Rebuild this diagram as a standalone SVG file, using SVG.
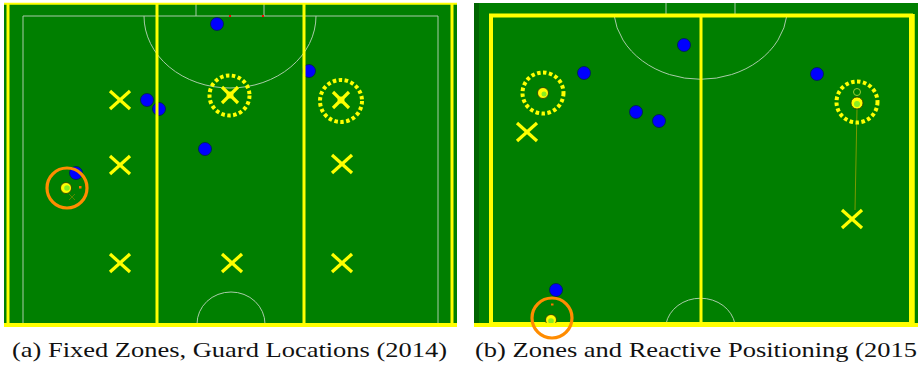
<svg xmlns="http://www.w3.org/2000/svg" width="918" height="366" viewBox="0 0 918 366">
<style>
.field{fill:#007f00}
.wl{fill:none;stroke:#a8cca8;stroke-width:1}
.yl{fill:none;stroke:#ffff00;stroke-width:3}
.xm{stroke:#ffff00;stroke-width:3.2;stroke-linecap:butt}
.dc{fill:none;stroke:#ffff00;stroke-width:4;stroke-dasharray:3.5 2.5}
.oc{fill:none;stroke:#ff8c00;stroke-width:3.2}
.rb{fill:#0000ff;stroke:#00224a;stroke-width:0.8}
.ball{fill:#ffff00;stroke:#333300;stroke-width:0.8}
.bin{fill:#88ee22}
.cap{font-family:"Liberation Serif","DejaVu Serif",serif;font-size:22px;fill:#111}
</style>
<defs>
<g id="xmark"><line class="xm" x1="-10" y1="-9" x2="10" y2="9"/><line class="xm" x1="-10" y1="9" x2="10" y2="-9"/></g>
<g id="xsmall"><line class="xm" x1="-8" y1="-8" x2="8" y2="8"/><line class="xm" x1="-8" y1="8" x2="8" y2="-8"/><circle r="3.5" fill="#ffff00"/></g>
</defs>
<rect width="918" height="366" fill="#ffffff"/>

<!-- Panel A -->
<g id="panel-a">
<rect class="field" x="4" y="3" width="453" height="324"/>
<path class="wl" d="M23,324 V16 H438 V324"/>
<path class="wl" d="M196,4 V16 M264,4 V16"/>
<path class="wl" d="M144,16 A86,72 0 0 0 316,16"/>
<path class="wl" d="M197,324 A34,32 0 0 1 265,324"/>
<rect x="229" y="15" width="2" height="2" fill="#ff0000"/>
<rect x="262" y="15" width="2" height="2" fill="#ff0000"/>
<g id="a-robots">
<circle class="rb" cx="217" cy="24" r="6.5"/>
<circle class="rb" cx="309" cy="71" r="6.5"/>
<circle class="rb" cx="147" cy="100" r="6.5"/>
<circle class="rb" cx="159" cy="109" r="6.5"/>
<circle class="rb" cx="205" cy="149" r="6.5"/>
<circle class="rb" cx="76" cy="173" r="6.5"/>
</g>
<path d="M4,3.8 H457" stroke="#ffff00" stroke-width="2"/>
<line class="yl" x1="8" y1="3" x2="8" y2="327"/>
<line class="yl" x1="452" y1="3" x2="452" y2="327"/>
<line x1="4" y1="325" x2="457" y2="325" stroke="#ffff00" stroke-width="4"/>
<line class="yl" x1="157" y1="3" x2="157" y2="325"/>
<line class="yl" x1="304" y1="3" x2="304" y2="325"/>
<g id="a-guards">
<use href="#xmark" x="120" y="100"/>
<use href="#xmark" x="120" y="165"/>
<use href="#xmark" x="120" y="263"/>
<use href="#xmark" x="232" y="263"/>
<use href="#xmark" x="342" y="263"/>
<use href="#xmark" x="342" y="164"/>
<use href="#xsmall" x="230" y="95"/>
<use href="#xsmall" x="341" y="100"/>
</g>
<circle class="dc" cx="229.5" cy="95.5" r="20"/>
<circle class="dc" cx="341" cy="101" r="21"/>
<g id="a-ball">
<circle class="ball" cx="66" cy="188" r="5.5"/>
<circle class="bin" cx="67" cy="188" r="2.8"/>
<rect x="79" y="186" width="2.5" height="2.5" fill="#ff7000"/>
<path d="M69,194 L75,200 M75,194 L69,200" stroke="#6a8a00" stroke-width="0.8"/>
<circle class="oc" cx="67" cy="188" r="20"/>
</g>
</g>

<!-- Panel B -->
<g id="panel-b">
<rect class="field" x="474" y="3" width="444" height="324"/>
<rect x="474" y="3" width="5" height="324" fill="#006400"/>
<path class="wl" d="M666,3 V15 M735,3 V15"/>
<path class="wl" d="M614,15 A87,72 0 0 0 787,15"/>
<path class="wl" d="M666,324 A35,31 0 0 1 735,324"/>
<rect x="491" y="15.5" width="420" height="308.5" fill="none" stroke="#ffff00" stroke-width="4"/>
<line x1="913.5" y1="14" x2="913.5" y2="327" stroke="#ffff00" stroke-width="2.5"/>
<line x1="474" y1="325" x2="918" y2="325" stroke="#ffff00" stroke-width="4"/>
<line class="yl" x1="701" y1="15" x2="701" y2="324"/>
<g id="b-robots">
<circle class="rb" cx="684" cy="45" r="6.5"/>
<circle class="rb" cx="584" cy="73" r="6.5"/>
<circle class="rb" cx="636" cy="112" r="6.5"/>
<circle class="rb" cx="659" cy="121" r="6.5"/>
<circle class="rb" cx="817" cy="74" r="6.5"/>
<circle class="rb" cx="556" cy="290" r="6.5"/>
</g>
<g id="b-guards">
<use href="#xmark" x="527" y="132"/>
<use href="#xmark" x="852" y="219"/>
</g>
<line x1="857" y1="108" x2="855" y2="210" stroke="#7a9a00" stroke-width="1"/>
<circle class="ball" cx="543" cy="93" r="5.5"/>
<circle class="bin" cx="544" cy="94" r="2.5"/>
<circle class="dc" cx="543" cy="93" r="20.5"/>
<circle class="ball" cx="857" cy="103" r="6"/>
<circle class="bin" cx="857" cy="104" r="3"/>
<circle cx="857" cy="92" r="3.5" fill="none" stroke="#9acd32" stroke-width="1"/>
<circle class="dc" cx="857" cy="102" r="20.5"/>
<g id="b-ball">
<circle class="ball" cx="551" cy="320" r="5.5"/>
<circle class="bin" cx="551" cy="321" r="2.8"/>
<line x1="474" y1="325" x2="918" y2="325" stroke="#ffff00" stroke-width="4"/>
<rect x="551" y="303.5" width="2.5" height="2" fill="#ff7000"/>
<circle class="oc" cx="552" cy="318" r="20"/>
</g>
</g>

<!-- Captions -->
<text class="cap" x="12" y="357" textLength="435" lengthAdjust="spacingAndGlyphs">(a) Fixed Zones, Guard Locations (2014)</text>
<text class="cap" x="475" y="357" textLength="442" lengthAdjust="spacingAndGlyphs">(b) Zones and Reactive Positioning (2015</text>
</svg>
